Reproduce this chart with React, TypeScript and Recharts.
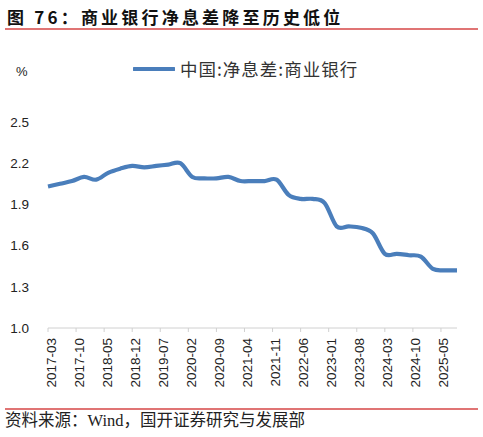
import { LineChart, Line, XAxis, YAxis, Legend } from "recharts";

// 季度数据 2017Q1 - 2025Q3
const quarters = [
  "2017-03", "2017-06", "2017-09", "2017-12",
  "2018-03", "2018-06", "2018-09", "2018-12",
  "2019-03", "2019-06", "2019-09", "2019-12",
  "2020-03", "2020-06", "2020-09", "2020-12",
  "2021-03", "2021-06", "2021-09", "2021-12",
  "2022-03", "2022-06", "2022-09", "2022-12",
  "2023-03", "2023-06", "2023-09", "2023-12",
  "2024-03", "2024-06", "2024-09", "2024-12",
  "2025-03", "2025-06", "2025-09",
];
const nim = [
  2.03, 2.05, 2.07, 2.10,
  2.08, 2.13, 2.16, 2.18,
  2.17, 2.18, 2.19, 2.20,
  2.10, 2.09, 2.09, 2.10,
  2.07, 2.07, 2.07, 2.08,
  1.97, 1.94, 1.94, 1.91,
  1.74, 1.74, 1.73, 1.69,
  1.54, 1.54, 1.53, 1.52,
  1.43, 1.42, 1.42,
];
const xTickLabels = [
  "2017-03", "2017-10", "2018-05", "2018-12", "2019-07", "2020-02", "2020-09",
  "2021-04", "2021-11", "2022-06", "2023-01", "2023-08", "2024-03", "2024-10", "2025-05",
];
const yTicks = [1.0, 1.3, 1.6, 1.9, 2.2, 2.5];
const seriesName = "中国:净息差:商业银行";

const START = "2017-03";
const monthIndex = (s: string) => {
  const [y, m] = s.split("-").map(Number);
  const [y0, m0] = START.split("-").map(Number);
  return (y - y0) * 12 + (m - m0);
};
const labelByIndex: Record<number, string> = {};
xTickLabels.forEach((l) => (labelByIndex[monthIndex(l)] = l));

const data = quarters.map((q, i) => ({ t: monthIndex(q), v: nim[i] }));

const LINE_COLOR = "#4a7ebb";
const RED = "#e07474";
const tickFont = "'Liberation Sans', Arial, sans-serif";

// Excel 风格的平滑线（Catmull-Rom 转贝塞尔）
const smoothCurve = (ctx: any) => {
  let pts: [number, number][] = [];
  return {
    areaStart() {},
    areaEnd() {},
    lineStart() {
      pts = [];
    },
    point(x: number, y: number) {
      pts.push([+x, +y]);
    },
    lineEnd() {
      if (!pts.length) return;
      ctx.moveTo(pts[0][0], pts[0][1]);
      for (let i = 0; i < pts.length - 1; i++) {
        const p0 = pts[Math.max(i - 1, 0)];
        const p1 = pts[i];
        const p2 = pts[i + 1];
        const p3 = pts[Math.min(i + 2, pts.length - 1)];
        ctx.bezierCurveTo(
          p1[0] + (p2[0] - p0[0]) / 6,
          p1[1] + (p2[1] - p0[1]) / 6,
          p2[0] - (p3[0] - p1[0]) / 6,
          p2[1] - (p3[1] - p1[1]) / 6,
          p2[0],
          p2[1]
        );
      }
    },
  };
};

const XTick = (props: any) => {
  const { x, y, payload } = props;
  const cx = x + 3;
  return (
    <text
      x={cx}
      y={y}
      transform={`rotate(-90, ${cx}, ${y})`}
      textAnchor="end"
      dominantBaseline="central"
      fontSize={13.5}
      fontFamily={tickFont}
      fill="#222"
    >
      {labelByIndex[payload.value]}
    </text>
  );
};

const LegendContent = () => (
  <div style={{ display: "flex", alignItems: "center" }}>
    <svg width={42} height={10}>
      <line x1={1} y1={5} x2={41} y2={5} stroke={LINE_COLOR} strokeWidth={4} strokeLinecap="round" />
    </svg>
    <span
      style={{
        marginLeft: 5,
        fontSize: 17.5,
        letterSpacing: 1,
        color: "#333",
        fontFamily: "'Noto Sans CJK SC', sans-serif",
      }}
    >
      {seriesName}
    </span>
  </div>
);

export default function App() {
  return (
    <div
      style={{
        position: "absolute",
        left: 0,
        top: 0,
        width: 483,
        height: 437,
        background: "#fff",
        overflow: "hidden",
      }}
    >
      <div
        style={{
          position: "absolute",
          left: 7,
          top: 5,
          fontSize: 17,
          fontWeight: 700,
          letterSpacing: 3.2,
          whiteSpace: "nowrap",
          color: "#111",
          fontFamily: "'Noto Sans CJK SC', sans-serif",
          lineHeight: "24px",
        }}
      >
        图 76：商业银行净息差降至历史低位
      </div>
      <div style={{ position: "absolute", left: 5, top: 28, width: 473, height: 1.5, background: RED }} />
      <div
        style={{
          position: "absolute",
          left: 16,
          top: 64,
          fontSize: 13,
          fontFamily: tickFont,
          color: "#222",
        }}
      >
        %
      </div>
      <LineChart
        width={483}
        height={400}
        data={data}
        margin={{ top: 97, right: 26, left: 0, bottom: 0 }}
      >
        <XAxis
          dataKey="t"
          type="number"
          domain={[0, 102]}
          ticks={xTickLabels.map(monthIndex)}
          interval={0}
          height={72}
          axisLine={{ stroke: "#d0d0d0", strokeWidth: 1 }}
          tickLine={{ stroke: "#d0d0d0" }}
          tickSize={4}
          tickMargin={6}
          tick={<XTick />}
        />
        <YAxis
          domain={[1.0, 2.5]}
          ticks={yTicks}
          width={48}
          axisLine={false}
          tickLine={false}
          tickSize={0}
          tickMargin={19}
          tickFormatter={(v: number) => v.toFixed(1)}
          tick={{ fontSize: 13.5, fontFamily: tickFont, fill: "#222" }}
        />
        <Legend
          verticalAlign="top"
          align="left"
          wrapperStyle={{ top: 56, left: 133, width: "auto" }}
          content={<LegendContent />}
        />
        <Line
          type={smoothCurve as any}
          dataKey="v"
          name={seriesName}
          stroke={LINE_COLOR}
          strokeWidth={4.2}
          dot={false}
          activeDot={false}
          isAnimationActive={false}
        />
      </LineChart>
      <div style={{ position: "absolute", left: 5, top: 408, width: 473, height: 1.5, background: RED }} />
      <div
        style={{
          position: "absolute",
          left: 5,
          top: 410,
          fontSize: 16.5,
          whiteSpace: "nowrap",
          color: "#222",
          fontFamily: "'Liberation Serif', 'Noto Sans CJK SC', serif",
          lineHeight: "22px",
        }}
      >
        资料来源：Wind，国开证券研究与发展部
      </div>
    </div>
  );
}
